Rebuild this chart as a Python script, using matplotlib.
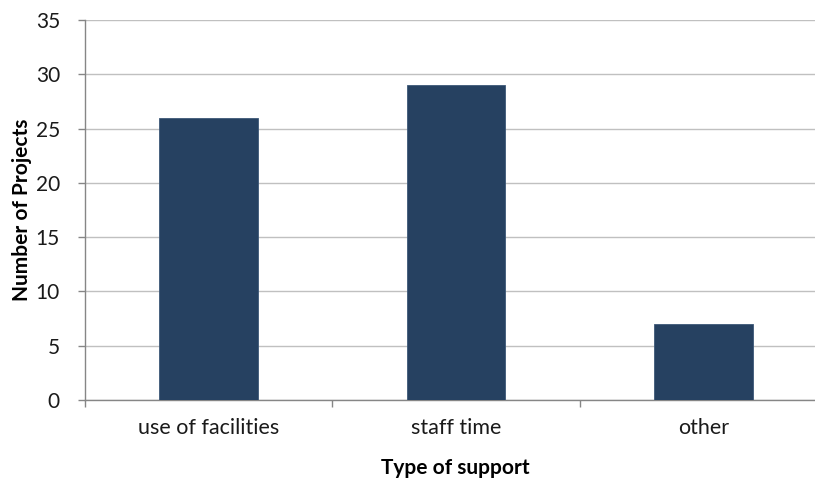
import numpy as np
import matplotlib.pyplot as plt

# nombre de projets par type de soutien
categories = ["use of facilities", "staff time", "other"]
projects = [26, 29, 7]
yticks = [0, 5, 10, 15, 20, 25, 30, 35]

plt.rcParams["font.family"] = ["Lato", "DejaVu Sans"]

fig = plt.figure(figsize=(8.15, 4.79), dpi=100)
# zone de tracé qui déborde à droite de la figure
ax = fig.add_axes([85 / 815, 79 / 479, 742 / 815, 380 / 479])

x = np.arange(len(categories))
ax.bar(x, projects, width=0.4, color="#264161", edgecolor="#3c5878", linewidth=0.6, zorder=3)

ax.set_xlim(-0.5, len(categories) - 0.5)
ax.set_ylim(0, 35)
ax.set_yticks(yticks)
ax.set_yticklabels([str(v) for v in yticks], fontsize=15, color="#1a1a1a")
ax.set_xticks(x)
ax.set_xticklabels(categories, fontsize=15.5, color="#1a1a1a")
ax.tick_params(axis="x", length=0, pad=13)
ax.tick_params(axis="y", length=5, color="#868686", width=1, pad=13)

# petits traits entre les catégories
ax.set_xticks(np.arange(len(categories) + 1) - 0.5, minor=True)
ax.tick_params(axis="x", which="minor", length=5, color="#868686", width=1)

ax.grid(axis="y", color="#c0c0c0", linewidth=1, zorder=0)
for s in ["top", "right"]:
    ax.spines[s].set_visible(False)
ax.spines["left"].set_color("#868686")
ax.spines["bottom"].set_color("#868686")
ax.spines["left"].set_linewidth(1)
ax.spines["bottom"].set_linewidth(1)

ax.set_ylabel("Number of Projects", fontsize=15, fontweight="bold")
ax.yaxis.set_label_coords(-53 / 742, 0.5)
ax.set_xlabel("Type of support", fontsize=15, fontweight="bold")
ax.xaxis.set_label_coords(370 / 742, -58 / 380)

fig.savefig("out.png", dpi=100)
